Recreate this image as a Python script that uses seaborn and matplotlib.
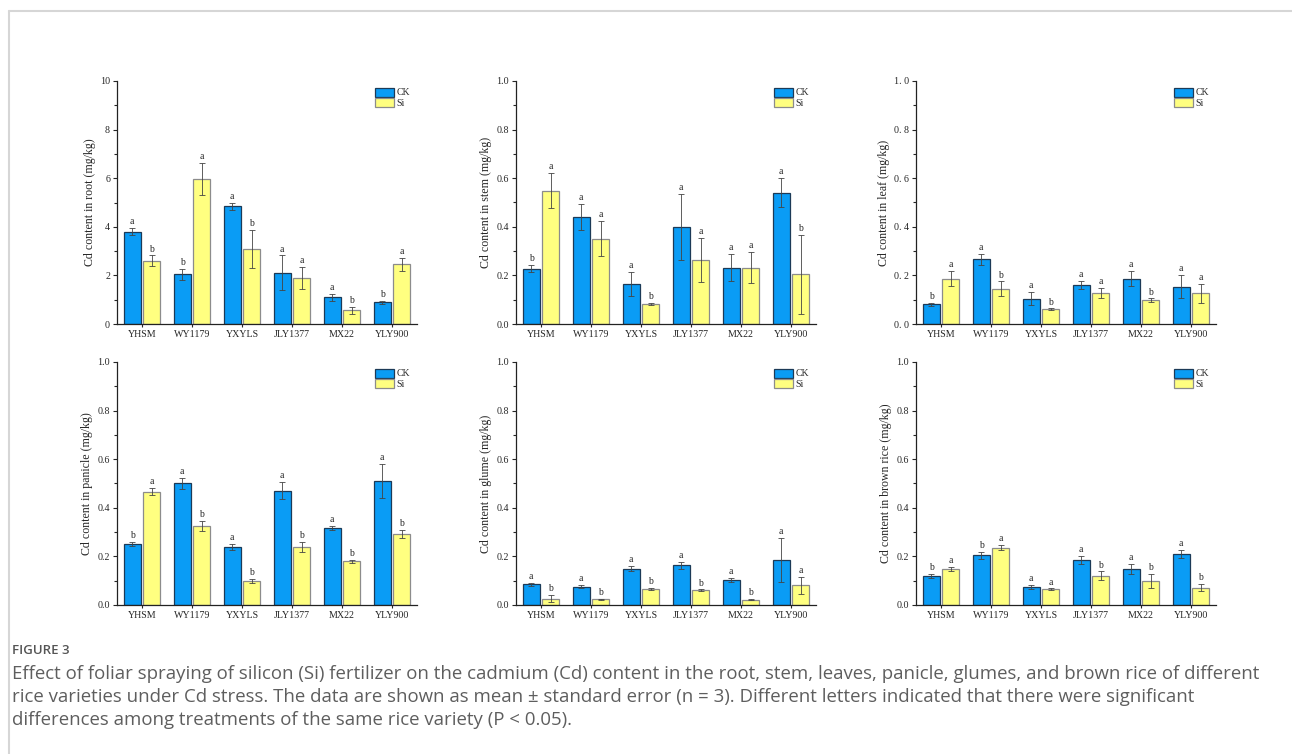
import numpy as np
import pandas as pd
import matplotlib
matplotlib.use("Agg")
import matplotlib.pyplot as plt
import seaborn as sns
from matplotlib.ticker import MultipleLocator, FixedLocator
from matplotlib.lines import Line2D

varieties = ["YHSM", "WY1179", "YXYLS", "JLY1377", "MX22", "YLY900"]
treatments = ["CK", "Si"]

# values: mean, standard error, letters
root_ck = [3.80, 2.05, 4.85, 2.10, 1.10, 0.90]
root_ck_se = [0.15, 0.22, 0.15, 0.72, 0.15, 0.06]
root_si = [2.60, 5.95, 3.08, 1.88, 0.57, 2.45]
root_si_se = [0.22, 0.66, 0.78, 0.45, 0.15, 0.25]
root_ck_sig = ["a", "b", "a", "a", "a", "b"]
root_si_sig = ["b", "a", "b", "a", "b", "a"]

stem_ck = [0.228, 0.439, 0.165, 0.398, 0.232, 0.540]
stem_ck_se = [0.015, 0.053, 0.050, 0.136, 0.055, 0.060]
stem_si = [0.549, 0.351, 0.082, 0.262, 0.232, 0.204]
stem_si_se = [0.072, 0.072, 0.005, 0.091, 0.063, 0.162]
stem_ck_sig = ["b", "a", "a", "a", "a", "a"]
stem_si_sig = ["a", "a", "b", "a", "a", "b"]

leaf_ck = [0.081, 0.267, 0.104, 0.159, 0.187, 0.154]
leaf_ck_se = [0.006, 0.023, 0.026, 0.017, 0.031, 0.047]
leaf_si = [0.187, 0.145, 0.060, 0.128, 0.097, 0.126]
leaf_si_se = [0.031, 0.030, 0.004, 0.020, 0.008, 0.040]
leaf_ck_sig = ["b", "a", "a", "a", "a", "a"]
leaf_si_sig = ["a", "b", "b", "a", "b", "a"]

panicle_ck = [0.250, 0.501, 0.238, 0.471, 0.316, 0.510]
panicle_ck_se = [0.008, 0.022, 0.012, 0.035, 0.008, 0.070]
panicle_si = [0.467, 0.324, 0.098, 0.239, 0.180, 0.291]
panicle_si_se = [0.013, 0.020, 0.008, 0.020, 0.007, 0.016]
panicle_ck_sig = ["b", "a", "a", "a", "a", "a"]
panicle_si_sig = ["a", "b", "b", "b", "b", "b"]

glume_ck = [0.085, 0.076, 0.150, 0.163, 0.103, 0.184]
glume_ck_se = [0.005, 0.005, 0.010, 0.015, 0.010, 0.090]
glume_si = [0.026, 0.023, 0.067, 0.060, 0.022, 0.081]
glume_si_se = [0.014, 0.003, 0.005, 0.004, 0.003, 0.035]
glume_ck_sig = ["a", "a", "a", "a", "a", "a"]
glume_si_sig = ["b", "b", "b", "b", "b", "a"]

brown_ck = [0.118, 0.205, 0.074, 0.185, 0.148, 0.210]
brown_ck_se = [0.008, 0.014, 0.007, 0.015, 0.022, 0.017]
brown_si = [0.147, 0.236, 0.065, 0.120, 0.098, 0.072]
brown_si_se = [0.008, 0.010, 0.003, 0.018, 0.028, 0.014]
brown_ck_sig = ["b", "b", "a", "a", "a", "a"]
brown_si_sig = ["a", "a", "a", "b", "b", "b"]

ylabels = ["Cd content in root (mg/kg)", "Cd content in stem (mg/kg)",
           "Cd content in leaf (mg/kg)", "Cd content in panicle (mg/kg)",
           "Cd content in glume (mg/kg)", "Cd content in brown rice (mg/kg)"]

panels = [
    (root_ck, root_ck_se, root_si, root_si_se, root_ck_sig, root_si_sig),
    (stem_ck, stem_ck_se, stem_si, stem_si_se, stem_ck_sig, stem_si_sig),
    (leaf_ck, leaf_ck_se, leaf_si, leaf_si_se, leaf_ck_sig, leaf_si_sig),
    (panicle_ck, panicle_ck_se, panicle_si, panicle_si_se, panicle_ck_sig, panicle_si_sig),
    (glume_ck, glume_ck_se, glume_si, glume_si_se, glume_ck_sig, glume_si_sig),
    (brown_ck, brown_ck_se, brown_si, brown_si_se, brown_ck_sig, brown_si_sig),
]

caption_lines = [
    "Effect of foliar spraying of silicon (Si) fertilizer on the cadmium (Cd) content in the root, stem, leaves, panicle, glumes, and brown rice of different",
    "rice varieties under Cd stress. The data are shown as mean \u00b1 standard error (n = 3). Different letters indicated that there were significant",
    "differences among treatments of the same rice variety (P < 0.05).",
]

sns.set_style("ticks")
plt.rcParams["font.family"] = ["Liberation Serif", "DejaVu Serif"]

colors = {"CK": "#0a9cf5", "Si": "#ffff80"}
edges = {"CK": "#1c3a57", "Si": "#8c8c8c"}

fig = plt.figure(figsize=(12.92, 7.54), dpi=100)

lefts = [117 / 1292, 516 / 1292, 916 / 1292]
bottoms = [1 - 324 / 754, 1 - 605 / 754]
w, h = 300 / 1292, 243 / 754

for i, (ck, ck_se, si, si_se, ck_sig, si_sig) in enumerate(panels):
    ax = fig.add_axes([lefts[i % 3], bottoms[i // 3], w, h])
    df = pd.DataFrame({
        "variety": varieties * 2,
        "Treatment": ["CK"] * 6 + ["Si"] * 6,
        "value": ck + si,
        "se": ck_se + si_se,
        "sig": ck_sig + si_sig,
    })
    sns.barplot(data=df, x="variety", y="value", hue="Treatment",
                hue_order=treatments, palette=colors, order=varieties,
                width=0.78, gap=0.15, errorbar=None, ax=ax,
                linewidth=0.9, saturation=1)

    ymax = 10 if i == 0 else 1.0
    for cont, trt in zip(ax.containers, treatments):
        sub = df[df["Treatment"] == trt]
        for bar, (_, row) in zip(cont, sub.iterrows()):
            bar.set_edgecolor(edges[trt])
            xc = bar.get_x() + bar.get_width() / 2
            ax.errorbar(xc, row["value"], yerr=row["se"], fmt="none",
                        ecolor="#444444", elinewidth=0.6, capsize=2.5,
                        capthick=0.6, zorder=3)
            ax.text(xc, row["value"] + row["se"] + ymax * 0.008, row["sig"],
                    ha="center", va="bottom", fontsize=7)

    ax.set_xlim(-0.5, 5.5)
    ax.set_ylim(0, ymax)
    if i == 0:
        ax.yaxis.set_major_locator(MultipleLocator(2))
        ax.yaxis.set_minor_locator(MultipleLocator(1))
    else:
        ax.yaxis.set_minor_locator(MultipleLocator(0.1))
        if i == 2:
            ticks = np.arange(0, 1.01, 0.2)
            ax.yaxis.set_major_locator(FixedLocator(ticks))
            ax.set_yticklabels([f"{t:.1f}".replace(".", ". ") for t in ticks])
        else:
            ax.yaxis.set_major_locator(MultipleLocator(0.2))
            ax.yaxis.set_major_formatter(plt.FormatStrFormatter("%.1f"))

    ax.set_xlabel("")
    ax.set_ylabel(ylabels[i], fontsize=8.6, labelpad=3)
    ax.tick_params(axis="both", which="major", labelsize=7.2, length=3,
                   width=0.8, direction="out", pad=2)
    ax.tick_params(axis="y", which="minor", length=2, width=0.8, direction="out")
    ax.tick_params(axis="x", length=2)
    for s in ["top", "right"]:
        ax.spines[s].set_visible(False)
    for s in ["left", "bottom"]:
        ax.spines[s].set_linewidth(0.9)
        ax.spines[s].set_color("#222222")

    leg = ax.legend(loc="upper right", frameon=False, fontsize=7,
                    handlelength=2.0, handleheight=1.0, labelspacing=0.05,
                    handletextpad=0.25, borderaxespad=0.3)
    for p, trt in zip(leg.get_patches(), treatments):
        p.set_edgecolor(edges[trt])

# page frame
fig.add_artist(Line2D([9 / 1292, 1], [1 - 11 / 754, 1 - 11 / 754],
                      color="#d6d6d6", lw=1.5, transform=fig.transFigure))
fig.add_artist(Line2D([9 / 1292, 9 / 1292], [0, 1 - 11 / 754],
                      color="#d6d6d6", lw=1.5, transform=fig.transFigure))

fig.text(12 / 1292, 1 - 650 / 754, "FIGURE 3", family="Open Sans",
         fontsize=9.5, fontweight="semibold", color="#555555", va="center")
for k, line in enumerate(caption_lines):
    fig.text(12 / 1292, 1 - (674 + 23 * k) / 754, line, family="Open Sans",
             fontsize=13.45, color="#5e5e5e", va="center")

fig.savefig("out.png", dpi=100, facecolor="white")
